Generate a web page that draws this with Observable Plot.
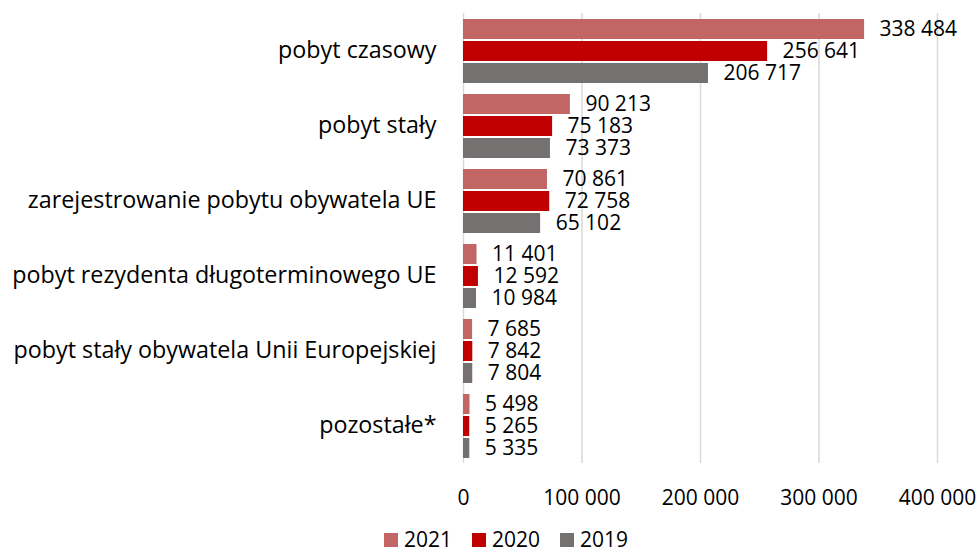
<!DOCTYPE html>
<html>
<head>
<meta charset="utf-8">
<script src="https://cdn.jsdelivr.net/npm/d3@7"></script>
<script src="https://cdn.jsdelivr.net/npm/@observablehq/plot@0.6"></script>
<style>
  body { margin: 0; background: #fff; font-family: "Open Sans", sans-serif; overflow: hidden; }
  #chart svg { display: block; }
  #legend { display: flex; align-items: center; margin-left: 384px; margin-top: 20px; height: 19px; line-height: 19px; font-size: 21px; color: #000; }
  .item { display: flex; align-items: center; margin-right: 20px; }
  .sw { width: 14px; height: 14px; margin-right: 6px; }
</style>
</head>
<body>
<div id="chart"></div>
<div id="legend"></div>
<script>
const categories = [
  "pobyt czasowy",
  "pobyt stały",
  "zarejestrowanie pobytu obywatela UE",
  "pobyt rezydenta długoterminowego UE",
  "pobyt stały obywatela Unii Europejskiej",
  "pozostałe*"
];
const years = ["2021", "2020", "2019"];
const values2021 = [338484, 90213, 70861, 11401, 7685, 5498];
const values2020 = [256641, 75183, 72758, 12592, 7842, 5265];
const values2019 = [206717, 73373, 65102, 10984, 7804, 5335];
const colors = ["#C26565", "#C00000", "#767171"];
const xTicks = [0, 100000, 200000, 300000, 400000];

const series = [values2021, values2020, values2019];
const data = [];
categories.forEach((c, i) => {
  years.forEach((y, j) => data.push({category: c, year: y, value: series[j][i]}));
});

const fmt = d3.formatLocale({decimal: ",", thousands: "\u00a0", grouping: [3], currency: ["", ""]}).format(",d");

const chart = Plot.plot({
  width: 978,
  height: 510,
  marginLeft: 463,
  marginRight: 41,
  marginTop: 13,
  marginBottom: 47,
  style: {fontFamily: "Open Sans, sans-serif", fontSize: "21px", color: "#000", background: "#fff"},
  x: {domain: [0, 400000], ticks: xTicks, tickFormat: fmt, label: null},
  fy: {domain: categories, label: null, padding: 0},
  y: {domain: years, axis: null, paddingInner: 0.1, paddingOuter: 0.24},
  color: {domain: years, range: colors},
  marks: [
    Plot.ruleX(xTicks, {stroke: "#d9d9d9", strokeWidth: 1.5}),
    Plot.barX(data, {fy: "category", y: "year", x: "value", fill: "year"}),
    Plot.text(data, {fy: "category", y: "year", x: "value", text: d => fmt(d.value), textAnchor: "start", dx: 15, fill: "#000"}),
    Plot.axisFy({anchor: "left", tickSize: 0, tickPadding: 27, label: null, fontSize: 23.3}),
    Plot.axisX({ticks: xTicks, tickFormat: fmt, tickSize: 0, tickPadding: 27, label: null, fontSize: 21})
  ]
});
document.getElementById("chart").appendChild(chart);

const legend = document.getElementById("legend");
years.forEach((y, i) => {
  const it = document.createElement("div");
  it.className = "item";
  it.innerHTML = `<span class="sw" style="background:${colors[i]}"></span><span>${y}</span>`;
  legend.appendChild(it);
});
</script>
</body>
</html>
